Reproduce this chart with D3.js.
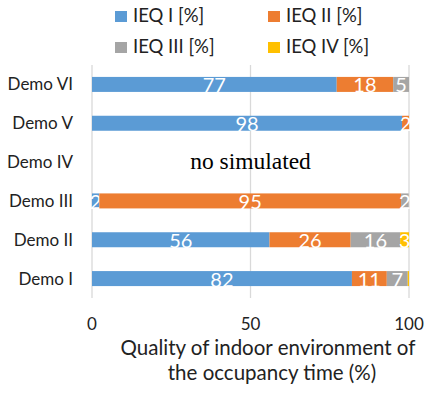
<!DOCTYPE html>
<html>
<head>
<meta charset="utf-8">
<script src="https://cdn.jsdelivr.net/npm/d3@7"></script>
<style>
  body { margin: 0; background: #fff; }
  text { font-family: Lato, "Open Sans", sans-serif; }
</style>
</head>
<body>
<svg id="chart" width="434" height="395"></svg>
<script>
'use strict';

// categories, bottom to top
const demos = ["Demo I", "Demo II", "Demo III", "Demo IV", "Demo V", "Demo VI"];
const seriesNames = ["IEQ I [%]", "IEQ II [%]", "IEQ III [%]", "IEQ IV [%]"];
const seriesColors = ["#5b9bd5", "#ed7d31", "#a5a5a5", "#ffc000"];

// one array per series, same order as demos (null = not simulated)
const ieq1 = [82, 56, 2.3, null, 97.8, 77.2];
const ieq2 = [11, 25.6, 95.2, null, 2.2, 17.8];
const ieq3 = [6.6, 15.6, 2.4, null, 0, 5];
const ieq4 = [0.4, 2.8, 0, null, 0, 0];
const xTicks = [0, 50, 100];

let svg = d3.select("#chart");

let x = d3.scaleLinear().domain([0, 100]).range([92, 409]);
let y = d3.scaleBand().domain(demos.slice().reverse()).range([65, 298]).padding(0);
let barH = 15;

// gridlines
svg.append("g")
  .selectAll("line")
  .data(xTicks)
  .enter().append("line")
  .attr("x1", d => x(d)).attr("x2", d => x(d))
  .attr("y1", 65).attr("y2", 298)
  .attr("stroke", "#d9d9d9")
  .attr("stroke-width", 1.3);

// stacked bars
let series = [ieq1, ieq2, ieq3, ieq4];
demos.forEach(function (demo, i) {
  if (ieq1[i] === null) return;
  let start = 0;
  series.forEach(function (vals, s) {
    let v = vals[i];
    let cy = y(demo) + y.bandwidth() / 2;
    if (v > 0) {
      svg.append("rect")
        .attr("x", x(start))
        .attr("y", cy - barH / 2)
        .attr("width", x(start + v) - x(start))
        .attr("height", barH)
        .attr("fill", seriesColors[s]);
      if (Math.round(v) >= 1) {
        svg.append("text")
          .attr("x", x(start + v / 2))
          .attr("y", cy + 8)
          .attr("text-anchor", "middle")
          .attr("fill", "#fff")
          .style("font-size", "20px")
          .text(Math.round(v));
      }
    }
    start += v;
  });
});

// not simulated note
svg.append("text")
  .attr("x", x(50))
  .attr("y", y("Demo IV") + y.bandwidth() / 2 + 7)
  .attr("text-anchor", "middle")
  .style("font-family", "'Liberation Serif', 'DejaVu Serif', serif")
  .style("font-size", "23.5px")
  .attr("fill", "#000")
  .text("no simulated");

// category labels
svg.append("g")
  .selectAll("text")
  .data(demos)
  .enter().append("text")
  .attr("x", 73)
  .attr("y", d => y(d) + y.bandwidth() / 2 + 6)
  .attr("text-anchor", "end")
  .attr("fill", "#222")
  .style("font-size", "17px")
  .text(d => d);

// x tick labels
svg.append("g")
  .selectAll("text")
  .data(xTicks)
  .enter().append("text")
  .attr("x", d => x(d))
  .attr("y", 330)
  .attr("text-anchor", "middle")
  .attr("fill", "#222")
  .style("font-size", "17px")
  .text(d => d);

// axis title
svg.append("text")
  .attr("x", 268).attr("y", 355)
  .attr("text-anchor", "middle")
  .attr("fill", "#222")
  .style("font-size", "20.5px")
  .text("Quality of indoor environment of");
svg.append("text")
  .attr("x", 272).attr("y", 380)
  .attr("text-anchor", "middle")
  .attr("fill", "#222")
  .style("font-size", "20.5px")
  .text("the occupancy time (%)");

// legend
let legendPos = [[115, 11], [268, 11], [115, 42], [268, 42]];
let legend = svg.append("g");
seriesNames.forEach(function (name, i) {
  let p = legendPos[i];
  legend.append("rect")
    .attr("x", p[0]).attr("y", p[1])
    .attr("width", 12).attr("height", 11)
    .attr("fill", seriesColors[i]);
  legend.append("text")
    .attr("x", p[0] + 18)
    .attr("y", p[1] + 11)
    .attr("fill", "#222")
    .style("font-size", "18.5px")
    .text(name);
});
</script>
</body>
</html>
